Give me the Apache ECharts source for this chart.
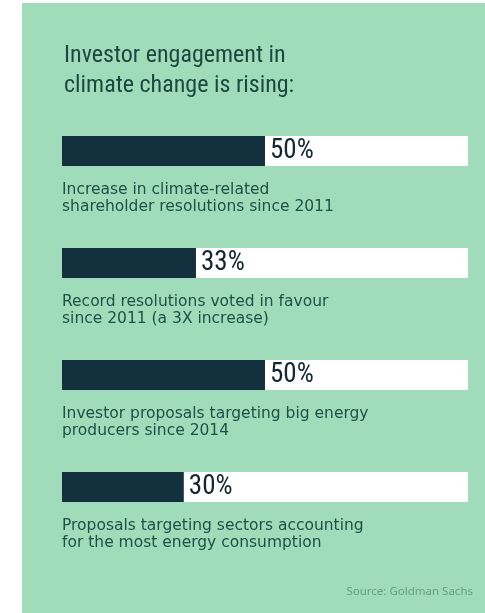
<!DOCTYPE html>
<html>
<head>
<meta charset="utf-8">
<script src="https://cdn.jsdelivr.net/npm/echarts@6/dist/echarts.min.js"></script>
<style>
html,body{margin:0;padding:0;background:#ffffff;}
#main{width:485px;height:613px;}
</style>
</head>
<body>
<div id="main"></div>
<script>
// Data
var categories = ['r1', 'r2', 'r3', 'r4'];
var values = [50, 33, 50, 30];
var trackMax = 100;
var descriptions = [
  'Increase in climate-related\nshareholder resolutions since 2011',
  'Record resolutions voted in favour\nsince 2011 (a 3X increase)',
  'Investor proposals targeting big energy\nproducers since 2014',
  'Proposals targeting sectors accounting\nfor the most energy consumption'
];
var titleText = 'Investor engagement in\nclimate change is rising:';
var sourceText = 'Source: Goldman Sachs';

var chart = echarts.init(document.getElementById('main'), null, {renderer: 'canvas'});
var narrow = '"Roboto Condensed", "DejaVu Sans Condensed", sans-serif';
var body = '"DejaVu Sans", "Noto Sans", sans-serif';

chart.setOption({
  animation: false,
  backgroundColor: '#ffffff',
  graphic: [{
    type: 'rect', z: -10, silent: true,
    shape: {x: 22, y: 3, width: 463, height: 610},
    style: {fill: '#a0dcb9'}
  }],
  title: [{
    text: titleText,
    left: 59, top: 36,
    textStyle: {fontFamily: narrow, fontSize: 24, fontWeight: 'normal', color: '#1b4843', lineHeight: 30}
  }, {
    text: sourceText,
    right: 7, bottom: 10,
    textStyle: {fontFamily: '"Noto Sans", sans-serif', fontSize: 11.5, fontWeight: 'normal', color: '#6b9a86'}
  }],
  grid: {left: 62, right: 17, top: 95, bottom: 70},
  xAxis: {type: 'value', min: 0, max: trackMax, show: false},
  yAxis: {type: 'category', data: categories, inverse: true, show: false},
  series: [{
    type: 'bar',
    data: categories.map(function(){ return trackMax; }),
    barWidth: 30,
    barGap: '-100%',
    itemStyle: {color: '#ffffff'},
    silent: true,
    label: {
      show: true,
      position: [0, 46],
      align: 'left',
      verticalAlign: 'top',
      formatter: function(p){ return descriptions[p.dataIndex]; },
      fontFamily: body, fontSize: 15.5, lineHeight: 16.5, color: '#1f4f48'
    }
  }, {
    type: 'bar',
    data: values,
    barWidth: 30,
    itemStyle: {color: '#13303f'},
    label: {
      show: true,
      position: 'right',
      distance: 5,
      formatter: '{c}%',
      fontFamily: narrow, fontSize: 27, color: '#14262f'
    }
  }]
});
</script>
</body>
</html>
